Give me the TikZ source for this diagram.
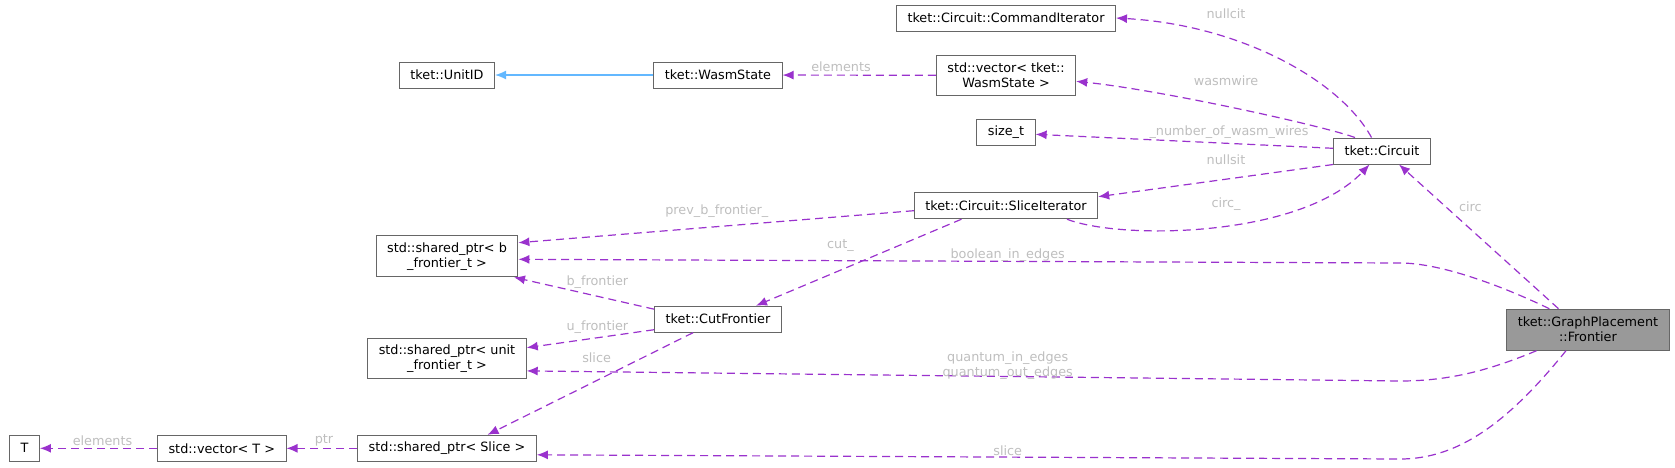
\documentclass[tikz,border=0pt]{standalone}
\usepackage{fontspec}
\setmainfont{DejaVu Sans}
\usetikzlibrary{arrows.meta}
\definecolor{edgepurple}{RGB}{154,50,205}
\definecolor{boxgrey}{RGB}{102,102,102}
\definecolor{lblgrey}{RGB}{190,190,190}
\definecolor{inhblue}{RGB}{99,184,255}
\definecolor{curfill}{RGB}{153,153,153}
\tikzset{
  cls/.style={draw=boxgrey, line width=1pt, fill=white, inner xsep=11pt, inner ysep=2pt,
    minimum height=26pt, align=center, font=\fontsize{12.8}{15}\selectfont},
  dep/.style={edgepurple, line width=1.2pt, dash pattern=on 8pt off 5pt,
    -{Latex[length=11pt,width=9pt]}},
  inh/.style={inhblue, line width=1.2pt, -{Latex[length=11pt,width=9pt]}},
  lbl/.style={lblgrey, inner sep=0pt, align=center, font=\fontsize{12.8}{15}\selectfont}
}
\begin{document}
\begin{tikzpicture}[x=1pt,y=-1pt]
\useasboundingbox (0,0) rectangle (1675,467);
\node[cls] (unitid) at (447,75) {tket::UnitID};
\node[cls] (wasmstate) at (718,75) {tket::WasmState};
\node[cls, minimum height=40pt] (wasmvec) at (1006,75.3) {std::vector< tket::\\WasmState >};
\node[cls] (cmditer) at (1006,18) {tket::Circuit::CommandIterator};
\node[cls] (sizet) at (1006,132.3) {size\_t};
\node[cls] (sliceit) at (1006,205.7) {tket::Circuit::SliceIterator};
\node[cls] (circuit) at (1382,151) {tket::Circuit};
\node[cls, minimum height=41pt] (bfront) at (447,256.3) {std::shared\_ptr< b\\\_frontier\_t >};
\node[cls, minimum height=40pt] (ufront) at (447,358.9) {std::shared\_ptr< unit\\\_frontier\_t >};
\node[cls] (tnode) at (24.5,448.3) {T};
\node[cls] (vect) at (221.8,448.3) {std::vector< T >};
\node[cls] (sliceptr) at (447,448.3) {std::shared\_ptr< Slice >};
\node[cls] (cutfront) at (718,319.2) {tket::CutFrontier};
\node[cls, fill=curfill, minimum height=41pt] (frontier) at (1588,329.7) {tket::GraphPlacement\\::Frontier};

\draw[inh] (wasmstate) -- (unitid);
\draw[dep] (wasmvec) -- (wasmstate);
\draw[dep] ([xshift=-10.5pt]circuit.north) .. controls (1340,80) and (1240,25) .. (cmditer.east);
\draw[dep] ([xshift=-27pt]circuit.north) .. controls (1320,125) and (1160,90) .. ([yshift=-6pt]wasmvec.east);
\draw[dep] ([yshift=2.7pt]circuit.west) -- ([yshift=-2pt]sizet.east);
\draw[dep] (circuit.south west) -- ([yshift=9pt]sliceit.east);
\draw[dep] ([xshift=61pt]sliceit.south) .. controls (1120,240) and (1300,238) .. ([xshift=-12.5pt]circuit.south);
\draw[dep] ([yshift=-5pt]sliceit.west) -- ([yshift=13.6pt]bfront.east);
\draw[dep] ([xshift=-44.5pt]sliceit.south) -- ([xshift=38pt]cutfront.north);
\draw[dep] ([xshift=-29.5pt]frontier.north) -- ([xshift=17pt]circuit.south);
\draw[dep] ([xshift=-38.7pt]frontier.north) .. controls (1500,285) and (1440,263) .. (1400,263) -- ([yshift=-3pt]bfront.east);
\draw[dep] ([yshift=10pt]cutfront.west) -- ([xshift=67pt]bfront.south);
\draw[dep] ([yshift=-10.5pt]cutfront.west) -- ([yshift=11.2pt]ufront.east);
\draw[dep] ([xshift=-51.5pt]frontier.south) .. controls (1490,370) and (1450,381) .. (1400,381) -- ([yshift=-12pt]ufront.east);
\draw[dep] ([xshift=-25pt]cutfront.south) -- ([xshift=40.5pt]sliceptr.north);
\draw[dep] ([xshift=-22pt]frontier.south) .. controls (1510,420) and (1460,459) .. (1400,459) -- ([yshift=-6.5pt]sliceptr.east);
\draw[dep] (sliceptr) -- (vect);
\draw[dep] (vect) -- (tnode);

\node[lbl] (lelem) at (841,67) {elements};
\node[lbl] (lnullcit) at (1226,13.3) {nullcit};
\node[lbl] (lwasmwire) at (1226,80.3) {wasmwire};
\node[lbl] (lnumwires) at (1229,132.3) {\_number\_of\_wasm\_wires};
\node[lbl] (lnullsit) at (1226,160) {nullsit};
\node[lbl] (lcircu) at (1226,204) {circ\_};
\node[lbl] (lprevb) at (716.8,211) {prev\_b\_frontier\_};
\node[lbl] (lcut) at (840.4,245.7) {cut\_};
\node[lbl] (lcirc) at (1470.4,207) {circ};
\node[lbl] (lbool) at (1007.7,255.3) {boolean\_in\_edges};
\node[lbl] (lbfr) at (597.4,281.7) {b\_frontier};
\node[lbl] (lufr) at (597.4,326.7) {u\_frontier};
\node[lbl] (lquant) at (1007.7,365.3) {quantum\_in\_edges\\quantum\_out\_edges};
\node[lbl] (lslicecut) at (596.6,357.7) {slice};
\node[lbl] (lslicefr) at (1007.7,451) {slice};
\node[lbl] (lptr) at (324,440.7) {ptr};
\node[lbl] (lelemt) at (102.5,440.7) {elements};
\end{tikzpicture}
\end{document}
